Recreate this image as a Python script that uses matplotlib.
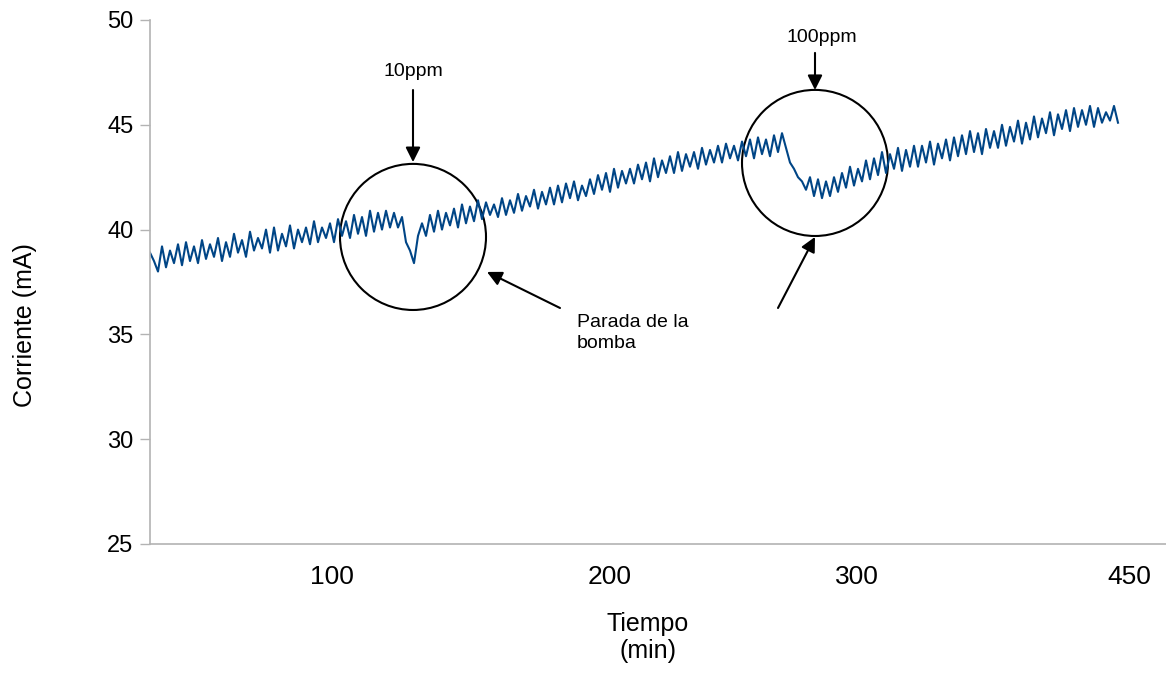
import matplotlib.pyplot as plt
from matplotlib.patches import Ellipse
import numpy as np

plt.rcParams['font.family'] = ['Liberation Sans', 'DejaVu Sans']

# corriente (una muestra cada ~4 px)
corriente = [
    38.9, 38.5, 38.0, 39.2, 38.2, 39.0, 38.4, 39.3, 38.3, 39.4, 38.5,
    39.2, 38.4, 39.5, 38.6, 39.3, 38.7, 39.6, 38.5, 39.4, 38.7,
    39.8, 38.9, 39.5, 38.7, 39.9, 39.0, 39.6, 39.1, 40.0, 38.9,
    40.1, 39.0, 39.8, 39.2, 40.2, 39.1, 40.0, 39.4, 40.1, 39.3,
    40.4, 39.4, 40.1, 39.6, 40.3, 39.4, 40.5, 39.7, 40.4, 39.6,
    40.7, 39.8, 40.6, 39.7, 40.9, 39.9, 40.8, 40.0, 40.9, 40.1,
    40.8, 40.1, 40.6, 39.4, 39.0, 38.4, 39.7, 40.3, 39.7,
    40.7, 39.9, 40.9, 40.0, 40.8, 40.2, 41.0, 40.1, 41.2, 40.3, 41.1,
    40.4, 41.4, 40.5, 41.3, 40.7, 41.2, 40.6, 41.5, 40.7, 41.4,
    40.8, 41.7, 40.9, 41.6, 41.1, 41.9, 41.0, 41.8, 41.2, 42.0,
    41.2, 42.1, 41.3, 42.2, 41.5, 42.3, 41.4, 42.1, 41.6, 42.4,
    41.7, 42.6, 41.9, 42.7, 41.8, 42.9, 42.0, 42.8, 42.2, 42.9,
    42.2, 43.1, 42.4, 43.2, 42.3, 43.4, 42.5, 43.3, 42.7, 43.5,
    42.7, 43.7, 42.8, 43.6, 43.0, 43.7, 42.9, 43.9, 43.1, 43.8,
    43.2, 44.0, 43.2, 44.1, 43.4, 44.0, 43.3, 44.2, 43.5, 44.3,
    43.4, 44.4, 43.6, 44.3, 43.5, 44.5, 43.7, 44.6,
    43.9, 43.2, 42.9, 42.5, 42.3, 41.9, 42.5, 41.6, 42.4, 41.5, 42.3, 41.6,
    42.5, 41.8, 42.7, 42.0, 43.0, 42.1, 42.9, 42.3, 43.3, 42.4, 43.4, 42.6,
    43.7, 42.7, 43.6, 42.9, 43.9, 42.8, 43.8, 43.0, 44.0, 43.0,
    44.0, 43.2, 44.2, 43.1, 44.1, 43.4, 44.3, 43.3, 44.4, 43.5,
    44.5, 43.6, 44.7, 43.7, 44.6, 43.6, 44.8, 43.9, 44.7, 43.9,
    45.0, 44.0, 44.9, 44.2, 45.2, 44.1, 45.1, 44.3, 45.4, 44.4,
    45.3, 44.6, 45.6, 44.5, 45.5, 44.8, 45.7, 44.7, 45.8, 44.9,
    45.7, 45.0, 45.9, 44.9, 45.8, 45.1, 45.6, 45.2, 45.9, 45.1,
]
muestra = np.arange(len(corriente))

# etiquetas del eje de categorias
tick_pos = [45.5, 115, 176.75, 244.75]
tick_lab = ['100', '200', '300', '450']

fig = plt.figure(figsize=(11.66, 6.73), dpi=100)
ax = fig.add_axes([150 / 1166, 1 - 544 / 673, 1016 / 1166, 524 / 673])

ax.plot(muestra, corriente, c='#004586', lw=1.5)

ax.set_xlim(0, 254)
ax.set_ylim(25, 50)
ax.set_yticks([25, 30, 35, 40, 45, 50])
ax.set_xticks(tick_pos)
ax.set_xticklabels(tick_lab)

for s in ['top', 'right']:
    ax.spines[s].set_visible(False)
for s in ['left', 'bottom']:
    ax.spines[s].set_color('#b3b3b3')
    ax.spines[s].set_linewidth(1.2)
ax.tick_params(axis='y', length=7, width=1, color='#b3b3b3', pad=5, labelsize=17)
ax.tick_params(axis='x', length=0, pad=15, labelsize=19)

ax.set_ylabel('Corriente (mA)', fontsize=18)
ax.yaxis.set_label_coords(-0.111, 0.418)
ax.set_xlabel('Tiempo\n(min)', fontsize=18, linespacing=1.15)
ax.xaxis.set_label_coords(0.49, -0.13)

# circulos alrededor de las paradas de la bomba
ax.add_patch(Ellipse((65.75, 39.65), 36.5, 6.97, fill=False, ec='black', lw=1.5, clip_on=False))
ax.add_patch(Ellipse((166.25, 43.18), 36.5, 6.97, fill=False, ec='black', lw=1.5, clip_on=False))

flecha = dict(arrowstyle='-|>', color='black', lw=1.5, mutation_scale=22, shrinkA=0, shrinkB=0)
ax.annotate('', xy=(65.75, 43.22), xytext=(65.75, 46.66), arrowprops=flecha)
ax.text(65.75, 47.55, '10ppm', ha='center', va='center', fontsize=14)
ax.annotate('', xy=(166.25, 46.66), xytext=(166.25, 48.43), arrowprops=flecha, annotation_clip=False)
ax.text(168, 49.15, '100ppm', ha='center', va='center', fontsize=14)

ax.annotate('', xy=(84.25, 37.98), xytext=(102.5, 36.26), arrowprops=flecha)
ax.annotate('', xy=(166.25, 39.65), xytext=(157, 36.26), arrowprops=flecha)
ax.text(106.75, 35.95, 'Parada de la\nbomba', ha='left', va='top', fontsize=14, linespacing=1.25)

plt.savefig('out.png', dpi=100)
